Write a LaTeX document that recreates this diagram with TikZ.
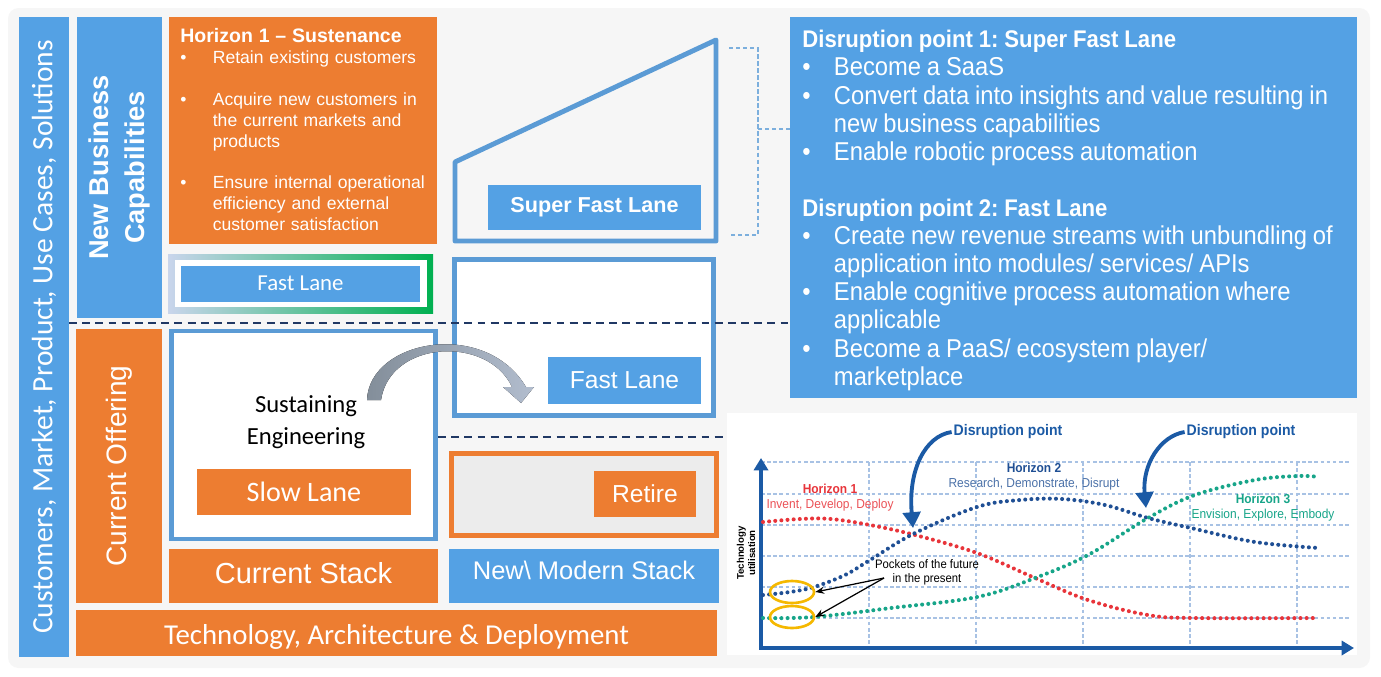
\documentclass[tikz,border=0pt]{standalone}
\usepackage{fontspec}
\setmainfont{Liberation Sans}
\newfontfamily\calib{Carlito}
\newfontfamily\cond[FakeStretch=0.92]{Liberation Sans}
\usetikzlibrary{arrows.meta,shapes.geometric}
\usepackage{xcolor}

\definecolor{skyblue}{HTML}{54A1E4}
\definecolor{orng}{HTML}{ED7D31}
\definecolor{frameblue}{HTML}{5B9BD5}
\definecolor{navydash}{HTML}{203864}
\definecolor{panelgray}{HTML}{F6F6F6}
\definecolor{arcdark}{HTML}{838E9A}
\definecolor{arclight}{HTML}{B2BDCE}
\definecolor{axisblue}{HTML}{1B5AA5}
\definecolor{gridblue}{HTML}{A8C2E4}
\definecolor{hred}{HTML}{E8343A}
\definecolor{hnavy}{HTML}{1F4F94}
\definecolor{hgreen}{HTML}{17A589}
\definecolor{ringyellow}{HTML}{F5B800}
\definecolor{gradL}{HTML}{C9D5EC}
\definecolor{gradM}{HTML}{4A84CC}
\definecolor{gradR}{HTML}{00B050}

\tikzset{wh/.style n args={2}{minimum width=#1*0.02cm, minimum height=#2*0.02cm}}

\newlength{\bindent}
\newcommand{\bitem}[1]{\par\noindent\hangindent=\bindent\hangafter=1\makebox[\bindent][l]{\textbullet}#1\par}

\begin{document}
\frenchspacing
\begin{tikzpicture}[x=0.02cm, y=-0.02cm,
  box/.style={rectangle, inner sep=0pt, text=white, align=center},
  bluebox/.style={box, fill=skyblue},
  orangebox/.style={box, fill=orng},
  lanebox/.style={rectangle, draw=frameblue, line width=2.8pt, fill=white, inner sep=0pt},
  sepline/.style={navydash, line width=1.1pt, dash pattern=on 4.5pt off 3pt},
  gridline/.style={gridblue, line width=0.6pt, dash pattern=on 2pt off 1.5pt},
  hcurve/.style={line width=2.3pt, line cap=round, dash pattern=on 0pt off 3.5pt},
  dparrow/.style={axisblue, line width=2.2pt, -{Triangle[width=10pt,length=9pt]}},
  ctext/.style={font=\cond\fontsize{7.4}{8.5}\selectfont, inner sep=0pt, align=center}
]
\useasboundingbox (0,0) rectangle (1381,676);
\fill[panelgray, rounded corners=6pt] (8,8) rectangle (1370,668);

% left columns
\node[bluebox, rotate=90, wh={640}{50}, font=\calib\fontsize{16.8}{18}\selectfont] (cust) at (44,337) {Customers, Market, Product, Use Cases, Solutions};
\node[bluebox, rotate=90, wh={301}{85}, font=\bfseries\fontsize{15.5}{20}\selectfont] (nbc) at (119.5,167.5) {New Business\\Capabilities};
\node[orangebox, rotate=90, wh={274}{86}, font=\fontsize{16}{19}\selectfont] (cur) at (119,466) {Current Offering};

% horizon 1
\node[orangebox, wh={268}{227}] (h1) at (303,130.5) {};
\node[anchor=north west, inner sep=0pt, text=white, text width=5.1cm] (h1txt) at (180,28) {%
  \setlength{\bindent}{18.5pt}%
  {\bfseries\fontsize{11.1}{12}\selectfont Horizon 1 – Sustenance}\par
  \fontsize{10}{11.9}\selectfont
  \bitem{Retain existing customers}\vskip 11.9pt
  \bitem{Acquire new customers in\newline the current markets and\newline products}\vskip 11.9pt
  \bitem{Ensure internal operational\newline efficiency and external\newline customer satisfaction}};

% fast lane (gradient frame)
\node[rectangle, inner sep=0pt, wh={265}{59}, left color=gradL, middle color=gradM, right color=gradR] (flouter) at (300.5,283.5) {};
\node[rectangle, fill=white, inner sep=0pt, wh={252}{47}] (flwhite) at (flouter.center) {};
\node[bluebox, wh={239}{36}, font=\calib\fontsize{13}{15}\selectfont] (fl1) at (flwhite.center) {Fast Lane};

% super fast lane
\coordinate (sf1) at (455,162);
\coordinate (sf2) at (716,40);
\coordinate (sf3) at (716,241);
\coordinate (sf4) at (455,241);
\draw[frameblue, line width=2.8pt, line join=round] (sf1) -- (sf2) -- (sf3) -- (sf4) -- cycle;
\node[bluebox, wh={213}{45}, font=\bfseries\fontsize{12.3}{14}\selectfont] (sfl) at (594.5,207.5) {Super Fast Lane};

% bracket
\draw[frameblue!80, line width=0.6pt, dash pattern=on 2.5pt off 1.5pt] (729,48) -- (758,48) -- (758,235) -- (729,235);
\draw[frameblue!80, line width=0.6pt, dash pattern=on 2.5pt off 1.5pt] (758,129) -- (790,129);

% fast lane frame
\node[lanebox, wh={259}{156}] (flframe) at (584,337.5) {};
\node[bluebox, wh={153}{47}, font=\fontsize{14}{16}\selectfont] (fl2) at (624.5,380.5) {Fast Lane};

% sustaining engineering
\node[lanebox, wh={264}{208}] (sus) at (303.5,435) {};
\node[align=center, inner sep=0pt, font=\calib\fontsize{14}{18}\selectfont] (sustxt) at (306,422) {Sustaining\\Engineering};
\node[orangebox, wh={214}{46}, font=\calib\fontsize{16}{18}\selectfont] (slow) at (304,492) {Slow Lane};

% retire
\node[rectangle, draw=orng, line width=2.8pt, fill=gray!15, inner sep=0pt, wh={265}{82}] (retbox) at (584,494.5) {};
\node[orangebox, wh={102}{46}, font=\fontsize{14}{16}\selectfont] (retire) at (645,494) {Retire};

% stacks
\node[orangebox, wh={269}{54}] (cstack) at (303.5,576) {};
\node[text=white, inner sep=0pt, font=\fontsize{16.5}{18}\selectfont] (cstxt) at ([yshift=1.5pt]cstack.center) {Current Stack};
\node[bluebox, wh={270}{54}] (nstack) at (584,576) {};
\node[text=white, inner sep=0pt, font=\fontsize{14.5}{16}\selectfont] (nstxt) at ([yshift=3pt]nstack.center) {New\textbackslash{} Modern Stack};
\node[orangebox, wh={641}{46}] (tech) at (396.5,633) {};
\node[text=white, inner sep=0pt, font=\calib\fontsize{16.4}{18}\selectfont] (techtxt) at ([yshift=-2pt]tech.center) {Technology, Architecture \& Deployment};

% curved arrow
\coordinate (arcT1) at (367,400);
\coordinate (arcT2) at (381,400);
\coordinate (arcH1) at (512,387);
\coordinate (arcH2) at (526,387);
\coordinate (arcTip) at (521,403);
\fill[left color=arcdark, right color=arclight] (arcT1) .. controls (369,340) and (485,318) .. (arcH2)
  -- (534,387) -- (arcTip) -- (503,387) -- (arcH1) .. controls (488,335) and (390,340) .. (arcT2) -- cycle;

% separators
\draw[sepline] (69,323) -- (790,323);
\draw[sepline] (438,437) -- (727,437);

% disruption text
\node[bluebox, wh={567}{381}] (disr) at (1073.5,207.5) {};
\node[anchor=north west, inner sep=0pt, text=white, text width=11cm] (disrtxt) at (802,30) {%
  \setlength{\bindent}{18pt}%
  \cond\fontsize{14.7}{16}\selectfont
  {\bfseries\fontsize{13.7}{16}\selectfont Disruption point 1: Super Fast Lane}\par
  \bitem{Become a SaaS}
  \bitem{Convert data into insights and value resulting in\newline new business capabilities}
  \bitem{Enable robotic process automation}\vskip 16pt
  {\bfseries\fontsize{13.7}{16}\selectfont Disruption point 2: Fast Lane}\par
  \bitem{Create new revenue streams with unbundling of\newline application into modules/ services/ APIs}
  \bitem{Enable cognitive process automation where\newline applicable}
  \bitem{Become a PaaS/ ecosystem player/\newline marketplace}};

% chart
\fill[white] (727,413) rectangle (1357,655);
\foreach \gy in {462,494,525,556,587,618}
  \draw[gridline] (761,\gy) -- (1350,\gy);
\foreach \gx in {869,976,1083,1190,1297}
  \draw[gridline] (\gx,462) -- (\gx,648);
\coordinate (org) at (761,648);
\coordinate (ytip) at (761,458);
\coordinate (xtip) at (1354,648);
\draw[axisblue, line width=2.2pt, -{Triangle[width=8pt,length=7pt]}] (org) -- (ytip);
\draw[axisblue, line width=2.2pt, -{Triangle[width=8pt,length=7pt]}] ([xshift=-1.1pt]org) -- (xtip);

\draw[hcurve, hred] plot[smooth, tension=0.6] coordinates {(763,522) (800,519) (831,519) (870,525) (915,535) (977,553) (1035,578) (1088,600) (1148,615) (1195,618) (1315,618)};
\draw[hcurve, hnavy] plot[smooth, tension=0.6] coordinates {(763,595) (790,592) (814,587) (845,575) (870,560) (915,533) (977,507) (1020,500) (1062,499) (1105,505) (1148,518) (1191,528) (1255,542) (1319,548)};
\draw[hcurve, hgreen] plot[smooth, tension=0.6] coordinates {(763,618) (814,617) (891,608) (977,597) (1035,578) (1088,555) (1148,518) (1195,495) (1255,480) (1298,476) (1319,477)};

\node[ctext, text=hred] (hz1) at (830,498) {\bfseries Horizon 1\\ \color{hred!85}Invent, Develop, Deploy};
\node[ctext, text=hnavy] (hz2) at (1034,477) {\bfseries Horizon 2\\ \color{hnavy!80}Research, Demonstrate, Disrupt};
\node[ctext, text=hgreen] (hz3) at (1263,508) {\bfseries Horizon 3\\ Envision, Explore, Embody};

\node[ctext, text=axisblue, font=\cond\bfseries\fontsize{8.7}{10}\selectfont] (dp1) at (1008,432) {Disruption point};
\node[ctext, text=axisblue, font=\cond\bfseries\fontsize{8.7}{10}\selectfont] (dp2) at (1241,432) {Disruption point};
\coordinate (dtip1) at (913,528);
\coordinate (dtip2) at (1146,508);
\draw[dparrow] ([xshift=-1pt]dp1.west) .. controls (925,436) and (908,470) .. (dtip1);
\draw[dparrow] ([xshift=-1pt]dp2.west) .. controls (1160,436) and (1142,465) .. (dtip2);

\node[ctext, rotate=90, font=\bfseries\fontsize{5.5}{6.5}\selectfont] (tu) at (746,553) {Technology\\utilisation};

\node[ctext, font=\cond\fontsize{7}{8}\selectfont] (pockets) at (927,572) {Pockets of the future\\in the present};
\node[ellipse, draw=ringyellow, line width=1.5pt, inner sep=0pt, wh={44}{22}] (pk1) at (792,592) {};
\node[ellipse, draw=ringyellow, line width=1.5pt, inner sep=0pt, wh={44}{22}] (pk2) at (792,617) {};
\coordinate (pkfrom) at (884,578);
\draw[-{Stealth[length=5pt,width=4pt]}, line width=0.7pt] (pkfrom) -- (pk1.east);
\draw[-{Stealth[length=5pt,width=4pt]}, line width=0.7pt] (pkfrom) -- (pk2.east);
\end{tikzpicture}
\end{document}
